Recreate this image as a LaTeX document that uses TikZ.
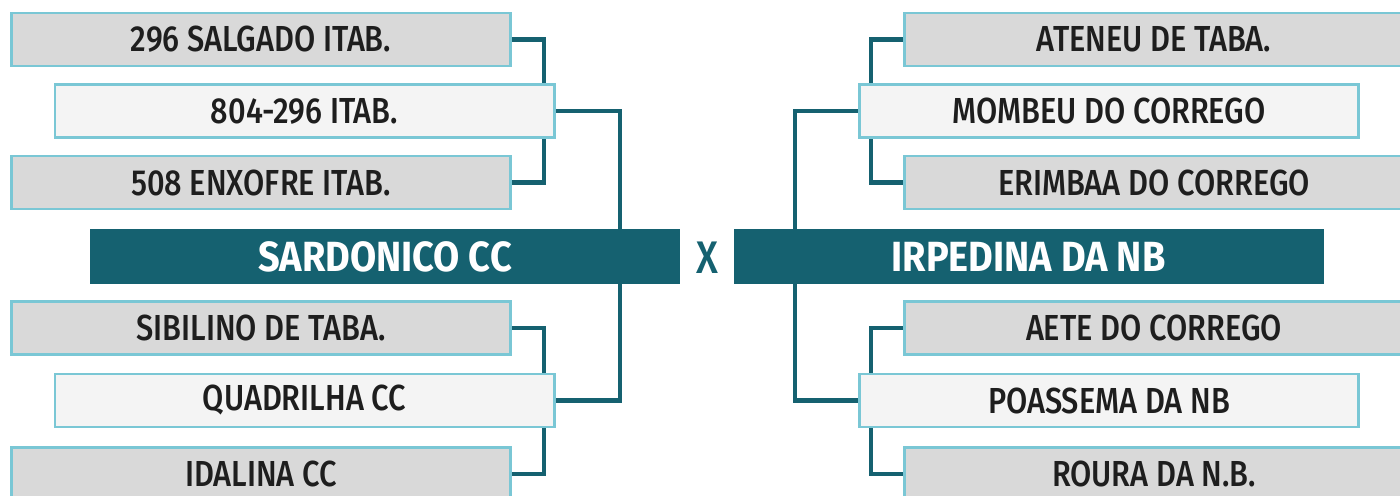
\documentclass[tikz,border=0pt]{standalone}
\usepackage{fontspec}
\setmainfont[FakeStretch=0.85]{Fira Sans Medium}
\newfontfamily\headfont[FakeStretch=0.9]{Fira Sans Bold}
\usetikzlibrary{positioning,backgrounds}
\definecolor{tealbar}{HTML}{156170}
\definecolor{edgeblue}{HTML}{7AC7D5}
\definecolor{boxgray}{HTML}{D9D9D9}
\definecolor{boxwhite}{HTML}{F4F4F4}
\definecolor{inktext}{HTML}{1E1E1E}
\begin{document}
\begin{tikzpicture}[node distance=1.43cm, auto]
    % Styles
    \tikzstyle{outerteam} = [rectangle, draw=edgeblue, line width=1.7pt, fill=boxgray,
        minimum width=9.98cm, minimum height=1.06cm, text=inktext,
        font=\fontsize{20.6}{24}\selectfont]
    \tikzstyle{innerteam} = [outerteam, fill=boxwhite]
    \tikzstyle{finalist} = [rectangle, fill=tealbar, text=white,
        minimum width=11.8cm, minimum height=1.1cm,
        font=\fontsize{24}{27}\selectfont\headfont]
    \tikzstyle{bracket} = [tealbar, line width=2.8pt]

    \useasboundingbox (0,0) rectangle (28,-9.9);

    % === CENTRE: Final ===
    \node [finalist] (sardonico) at (7.7,-5.13) {SARDONICO CC};
    \node [finalist] (irpedina) at (20.57,-5.13) {IRPEDINA DA NB};
    \node [text=tealbar, font=\fontsize{26}{28}\selectfont] (versus) at (14.15,-5.16) {X};

    % === LEFT: Semifinals ===
    \node [innerteam, above of=sardonico, node distance=2.91cm, xshift=-1.61cm] (itab) {804-296 ITAB.};
    \node [outerteam, above of=itab, xshift=-0.87cm] (salgado) {296 SALGADO ITAB.};
    \node [outerteam, below of=itab, xshift=-0.87cm] (enxofre) {508 ENXOFRE ITAB.};
    \node [innerteam, below of=sardonico, node distance=2.88cm, xshift=-1.61cm] (quadrilha) {QUADRILHA CC};
    \node [outerteam, above of=quadrilha, node distance=1.45cm, xshift=-0.87cm] (sibilino) {SIBILINO DE TABA.};
    \node [outerteam, below of=quadrilha, node distance=1.47cm, xshift=-0.87cm] (idalina) {IDALINA CC};

    % === RIGHT: Semifinals ===
    \node [innerteam, above of=irpedina, node distance=2.91cm, xshift=1.61cm] (mombeu) {MOMBEU DO CORREGO};
    \node [outerteam, above of=mombeu, xshift=0.90cm] (ateneu) {ATENEU DE TABA.};
    \node [outerteam, below of=mombeu, xshift=0.90cm] (erimbaa) {ERIMBAA DO CORREGO};
    \node [innerteam, below of=irpedina, node distance=2.88cm, xshift=1.61cm] (poassema) {POASSEMA DA NB};
    \node [outerteam, above of=poassema, node distance=1.45cm, xshift=0.90cm] (aete) {AETE DO CORREGO};
    \node [outerteam, below of=poassema, node distance=1.47cm, xshift=0.90cm] (roura) {ROURA DA N.B.};

    % === BRACKETS ===
    \begin{pgfonlayer}{background}
    \draw [bracket] (salgado.east) -- ++(0.64,0) |- (enxofre.east);
    \draw [bracket] (sibilino.east) -- ++(0.64,0) |- (idalina.east);
    \draw [bracket] (itab.east) -| ([xshift=4.7cm]sardonico.north);
    \draw [bracket] ([xshift=4.7cm]sardonico.south) |- (quadrilha.east);
    \draw [bracket] (ateneu.west) -- ++(-0.64,0) |- (erimbaa.west);
    \draw [bracket] (aete.west) -- ++(-0.64,0) |- (roura.west);
    \draw [bracket] (mombeu.west) -| ([xshift=-4.67cm]irpedina.north);
    \draw [bracket] ([xshift=-4.67cm]irpedina.south) |- (poassema.west);
    \end{pgfonlayer}
\end{tikzpicture}
\end{document}
